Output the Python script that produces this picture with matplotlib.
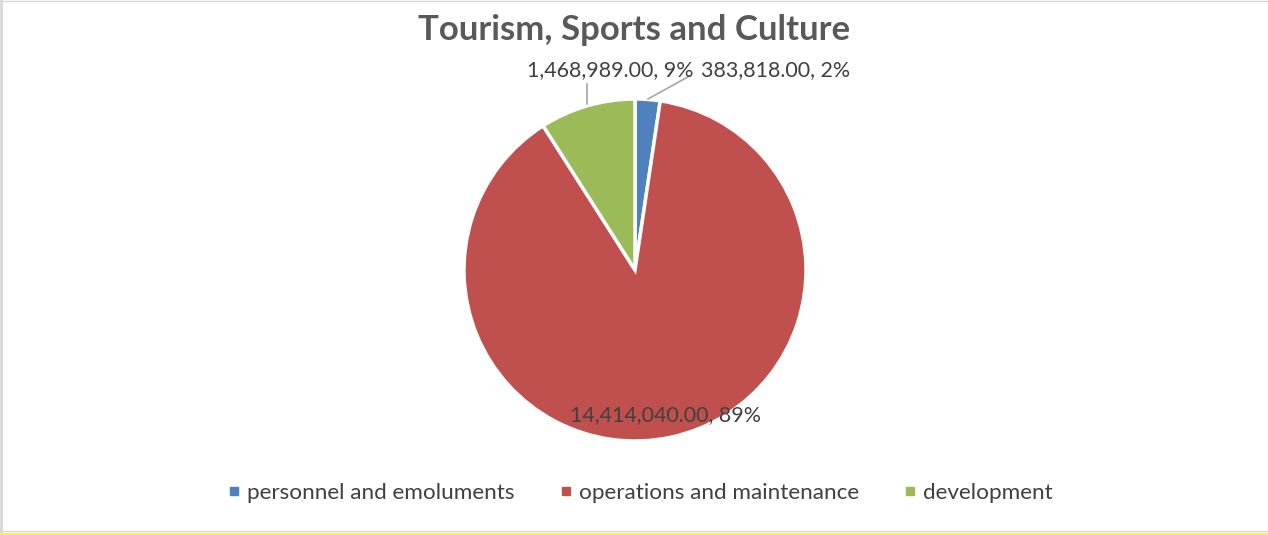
import matplotlib
matplotlib.use("Agg")
import matplotlib.pyplot as plt
import numpy as np

# Budget allocation for the department
categories = ["personnel and emoluments", "operations and maintenance", "development"]
amounts = [383818.00, 14414040.00, 1468989.00]
colors = ["#4F81BD", "#C0504D", "#9BBB59"]
title = "Tourism, Sports and Culture"

plt.rcParams["font.family"] = ["Lato", "DejaVu Sans"]

W, H = 1268, 535
fig = plt.figure(figsize=(W / 100, H / 100), dpi=100)

# Pie axes: centre and radius in pixels
cx, cy, r = 635, 265, 171
ax = fig.add_axes([(cx - r) / W, (cy - r) / H, 2 * r / W, 2 * r / H])
wedges, _ = ax.pie(amounts, colors=colors, startangle=90, counterclock=False,
                   radius=1.0, wedgeprops=dict(edgecolor="white", linewidth=2.5))
ax.set_xlim(-1, 1)
ax.set_ylim(-1, 1)
ax.set_aspect("equal")
ax.axis("off")

total = sum(amounts)
def label_text(v):
    return f"{v:,.2f}, {round(100 * v / total):.0f}%"

label_color = "#404040"
leader_color = "#A6A6A6"
fs = 15.4

# personnel and emoluments (outside, with leader)
ax.text(0.82, 1.17, label_text(amounts[0]), ha="center", va="center",
        fontsize=fs, color=label_color, clip_on=False)
ax.plot([0.076, 0.32], [1.0, 1.135], color=leader_color, lw=1.2, clip_on=False)

# development (outside, with leader)
ax.text(-0.145, 1.17, label_text(amounts[2]), ha="center", va="center",
        fontsize=fs, color=label_color, clip_on=False)
ax.plot([-0.282, -0.282], [0.97, 1.09], color=leader_color, lw=1.2, clip_on=False)

# operations and maintenance (inside, near the edge)
ax.text(0.18, -0.85, label_text(amounts[1]), ha="center", va="center",
        fontsize=fs, color=label_color, clip_on=False)

fig.text(634 / W, 1 - 30 / H, title, ha="center", va="center", fontsize=25,
         fontweight="bold", color="#595959")

# Legend
lfs = 16.2
handles = [plt.Line2D([], [], marker="s", ls="", color=c, markersize=6) for c in colors]
fig.legend(handles, categories, loc="center", bbox_to_anchor=(640 / W, 1 - 493 / H),
           ncol=3, frameon=False, fontsize=lfs, labelcolor=label_color,
           handlelength=0.6, handletextpad=0.27, columnspacing=2.0,
           borderpad=0, borderaxespad=0)

# Frame lines along the figure edges
fig.add_artist(plt.Line2D([1 / W, 1 / W], [0, 1], transform=fig.transFigure,
                          color="#D9D9D9", lw=2))
fig.add_artist(plt.Line2D([0, 1], [1 - 0.5 / H, 1 - 0.5 / H], transform=fig.transFigure,
                          color="#D9D9D9", lw=1))
fig.add_artist(plt.Line2D([0, 1], [4 / H, 4 / H], transform=fig.transFigure,
                          color="#D9D9D9", lw=1))
fig.add_artist(plt.Line2D([0, 1], [1.5 / H, 1.5 / H], transform=fig.transFigure,
                          color="#F2F25A", lw=2.2))

fig.savefig("out.png", dpi=100, facecolor="white")
